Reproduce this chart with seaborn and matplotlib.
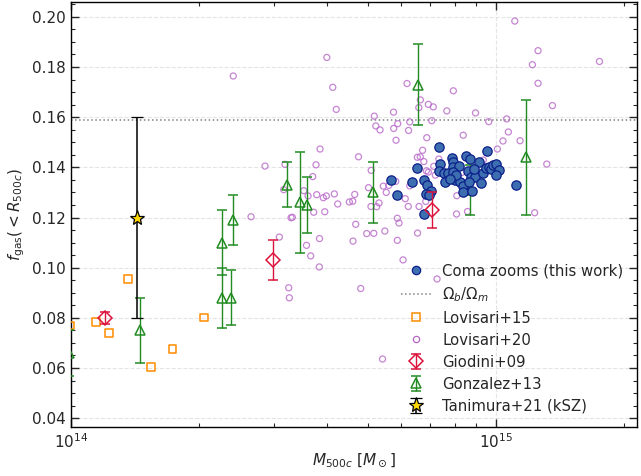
import numpy as np
import pandas as pd
import matplotlib
matplotlib.use("Agg")
import matplotlib.pyplot as plt
import matplotlib.ticker as mticker
from matplotlib.lines import Line2D
import seaborn as sns

# Masses in units of 1e14 Msun, gas fractions within R500c
coma_m = [7.365, 6.516, 5.670, 5.866, 6.362, 6.791, 6.902, 7.043, 6.865, 6.954,
          6.780, 7.394, 7.342, 7.556, 7.722, 7.609, 7.879, 7.948, 7.922, 8.184,
          7.922, 8.021, 8.240, 8.389, 8.389, 8.500, 8.714, 8.620, 8.732, 8.939,
          8.666, 8.794, 9.120, 9.556, 9.350, 9.250, 9.474, 9.659, 9.763, 9.872,
          10.02, 10.16, 10.02, 11.18, 8.05, 7.80, 8.90]
coma_f = [0.1481, 0.1396, 0.1348, 0.1291, 0.1341, 0.1351, 0.1328, 0.1307, 0.1294, 0.1288,
          0.1215, 0.1412, 0.1384, 0.1377, 0.1376, 0.1343, 0.1436, 0.1421, 0.1402, 0.1406,
          0.1380, 0.1348, 0.1341, 0.1326, 0.1303, 0.1444, 0.1434, 0.1384, 0.1363, 0.1363,
          0.1343, 0.1307, 0.1421, 0.1465, 0.1376, 0.1339, 0.1397, 0.1402, 0.1393, 0.1410,
          0.1413, 0.1390, 0.1371, 0.1329, 0.1370, 0.1352, 0.1395]

lov15_m = [0.995, 1.145, 1.229, 1.362, 1.543, 1.732, 2.057]
lov15_f = [0.0769, 0.0783, 0.0740, 0.0955, 0.0603, 0.0677, 0.0801]

lov20_m = [2.41, 2.863, 3.19, 3.168, 3.531, 3.708, 3.775, 3.858, 3.297, 3.32,
           3.728, 3.789, 2.654, 3.094, 3.847, 4.133, 4.213, 4.753, 3.615, 3.927,
           3.992, 4.169, 4.246, 4.523, 4.606, 4.656, 3.958, 4.681, 3.585, 3.668,
           4.613, 3.843, 3.255, 3.266, 4.810, 6.183, 7.947, 6.646, 6.941, 7.127,
           6.591, 7.671, 5.746, 8.964, 5.177, 5.879, 6.275, 7.069, 9.627, 5.220,
           5.341, 5.752, 6.234, 6.881, 8.384, 5.825, 6.726, 6.538, 6.642, 6.773,
           7.346, 9.349, 10.09, 5.091, 7.146, 6.866, 6.941, 5.018, 5.435, 5.602,
           5.524, 5.815, 6.123, 6.275, 6.843, 7.208, 8.099, 5.085, 5.245, 5.311,
           6.224, 6.599, 5.866, 5.920, 4.969, 5.163, 5.482, 5.866, 6.545, 6.051,
           8.086, 8.582, 7.275, 5.414, 11.09, 12.58, 12.20, 12.58, 13.60, 17.55,
           10.61, 10.71, 10.40, 11.41, 13.19, 12.35, 8.108, 8.316, 4.003]
lov20_f = [0.1764, 0.1405, 0.1412, 0.1311, 0.1307, 0.1363, 0.1410, 0.1473, 0.1199, 0.1201,
           0.1221, 0.1291, 0.1203, 0.1122, 0.1116, 0.1719, 0.1631, 0.1442, 0.1286, 0.1279,
           0.1286, 0.1294, 0.1254, 0.1262, 0.1265, 0.1292, 0.1223, 0.1173, 0.1089, 0.1047,
           0.1106, 0.1003, 0.0920, 0.0880, 0.0917, 0.1734, 0.1705, 0.1669, 0.1651, 0.1641,
           0.1638, 0.1625, 0.1620, 0.1617, 0.1604, 0.1574, 0.1581, 0.1586, 0.1582, 0.1565,
           0.1549, 0.1555, 0.1547, 0.1518, 0.1528, 0.1508, 0.1468, 0.1440, 0.1442, 0.1423,
           0.1433, 0.1429, 0.1473, 0.1388, 0.1404, 0.1386, 0.1381, 0.1319, 0.1325, 0.1328,
           0.1300, 0.1344, 0.1275, 0.1326, 0.1264, 0.1369, 0.1287, 0.1244, 0.1243, 0.1258,
           0.1244, 0.1244, 0.1197, 0.1178, 0.1136, 0.1137, 0.1146, 0.1109, 0.1138, 0.1031,
           0.1214, 0.1224, 0.0955, 0.0636, 0.1983, 0.1865, 0.1809, 0.1735, 0.1646, 0.1822,
           0.1593, 0.1541, 0.1505, 0.1506, 0.1413, 0.1219, 0.1377, 0.1379, 0.1838]

giod_m = [1.20, 2.99, 7.09]
giod_f = [0.080, 0.103, 0.123]
giod_err = [0.0025, 0.008, 0.007]

gonz_m = [0.99, 1.456, 2.264, 2.264, 2.38, 2.41, 3.232, 3.461, 3.60, 5.15, 6.575, 8.70, 11.80]
gonz_f = [0.066, 0.075, 0.110, 0.088, 0.088, 0.119, 0.133, 0.126, 0.125, 0.130, 0.173, 0.131, 0.144]
gonz_err = [0.009, 0.013, 0.013, 0.012, 0.011, 0.010, 0.009, 0.020, 0.011, 0.012, 0.016, 0.010, 0.023]

tani_m = [1.43]
tani_f = [0.120]
tani_err = [0.040]

baryon_frac = 0.159

sns.set_style("ticks")
plt.rcParams["font.family"] = ["DejaVu Sans"]
plt.rcParams["mathtext.fontset"] = "dejavusans"

fig = plt.figure(figsize=(6.41, 4.76), dpi=100)
ax = fig.add_axes([71 / 641, 1 - 427 / 476, 566 / 641, 425 / 476])

unit = 1e14
coma = pd.DataFrame({"M": np.array(coma_m) * unit, "f": coma_f})
lov15 = pd.DataFrame({"M": np.array(lov15_m) * unit, "f": lov15_f})
lov20 = pd.DataFrame({"M": np.array(lov20_m) * unit, "f": lov20_f})

lov20_color = "#b867c8"

sns.scatterplot(data=lov20, x="M", y="f", ax=ax, marker="o", s=19,
                facecolor="none", edgecolor=lov20_color, linewidth=0.9,
                alpha=0.8, zorder=2)
sns.scatterplot(data=lov15, x="M", y="f", ax=ax, marker="s", s=30,
                facecolor="none", edgecolor="darkorange", linewidth=1.1, zorder=3)

ax.errorbar(np.array(gonz_m) * unit, gonz_f, yerr=gonz_err, fmt="^", ms=7,
            mfc="none", mec="forestgreen", color="forestgreen", ecolor="forestgreen",
            elinewidth=1.0, capsize=3.5, capthick=1.0, mew=1.1, zorder=3)

sns.scatterplot(data=coma, x="M", y="f", ax=ax, marker="o", s=45,
                color="#3d6fb0", edgecolor="#0d1f8a", linewidth=0.9, zorder=4)

ax.errorbar(np.array(giod_m) * unit, giod_f, yerr=giod_err, fmt="D", ms=7,
            mfc="none", mec="crimson", color="crimson", ecolor="crimson",
            elinewidth=1.0, capsize=3.5, capthick=1.0, mew=1.1, zorder=5)
ax.errorbar(np.array(tani_m) * unit, tani_f, yerr=tani_err, fmt="*", ms=11,
            mfc="gold", mec="black", ecolor="black", elinewidth=1.1,
            capsize=4, capthick=1.1, mew=0.9, zorder=6)

ax.axhline(baryon_frac, color="gray", ls=":", lw=1.1, zorder=1)

ax.set_xscale("log")
ax.set_xlim(1e14, 2.151e15)
ax.set_ylim(0.0365, 0.2059)
ax.yaxis.set_major_locator(mticker.MultipleLocator(0.02))
ax.yaxis.set_minor_locator(mticker.MultipleLocator(0.005))
ax.yaxis.set_major_formatter(mticker.FormatStrFormatter("%.2f"))
ax.xaxis.set_minor_formatter(mticker.NullFormatter())
ax.tick_params(which="both", direction="in", top=True, right=True, labelsize=11)
ax.tick_params(which="major", length=6, width=1)
ax.tick_params(which="minor", length=3, width=0.8)
ax.grid(True, which="major", ls="--", color="lightgray", alpha=0.6, lw=0.8)
for sp in ax.spines.values():
    sp.set_linewidth(1)
    sp.set_color("black")

ax.set_xlabel(r"$M_{500c}$ [$M_\odot$]", fontsize=11, labelpad=0)
ax.set_ylabel(r"$f_{\rm gas}(<R_{500c})$", fontsize=11)

handles = [
    Line2D([], [], ls="none", marker="o", ms=6, mfc="#3d6fb0", mec="#0d1f8a", mew=0.9),
    Line2D([], [], ls=":", color="gray", lw=1.1),
    Line2D([], [], ls="none", marker="s", ms=5.5, mfc="none", mec="darkorange", mew=1.1),
    Line2D([], [], ls="none", marker="o", ms=4.5, mfc="none", mec=lov20_color, mew=0.9),
]
labels = ["Coma zooms (this work)", r"$\Omega_b/\Omega_m$", "Lovisari+15", "Lovisari+20",
          "Giodini+09", "Gonzalez+13", "Tanimura+21 (kSZ)"]
# errorbar containers in drawing order: Gonzalez, Giodini, Tanimura
cont = list(ax.containers)
handles += [cont[1], cont[0], cont[2]]
ax.legend(handles, labels, loc="lower right", frameon=False, fontsize=10.7,
          labelspacing=0.47, handletextpad=0.8, borderaxespad=0.5)

fig.savefig("out.png", dpi=100)
